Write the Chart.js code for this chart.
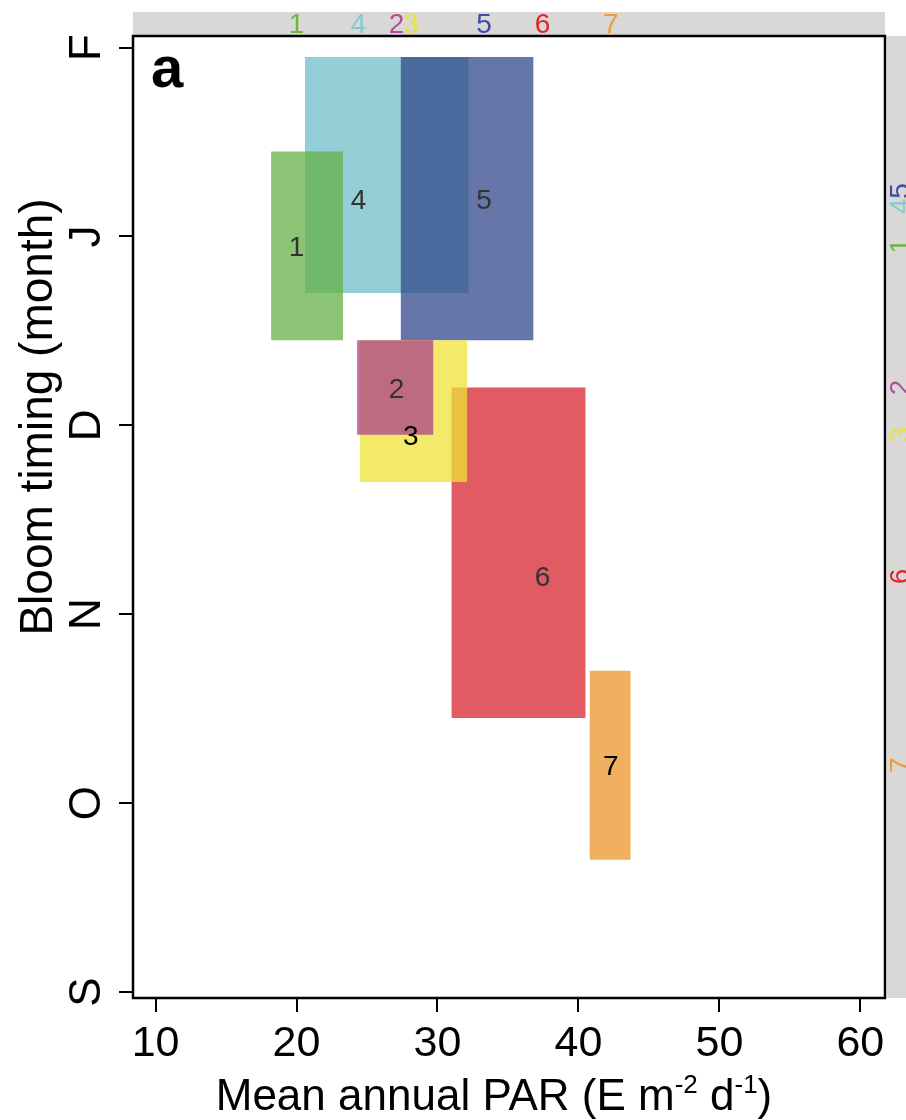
<!DOCTYPE html>
<html>
<head>
<meta charset="utf-8">
<title>Bloom timing vs mean annual PAR</title>
<script src="https://cdn.jsdelivr.net/npm/chart.js"></script>
<style>
  html, body { margin: 0; padding: 0; background: #fff; }
</style>
</head>
<body>
<canvas id="bloomChart" width="906" height="1120"></canvas>
<script>
// Bloom timing vs. mean annual PAR – one box per region (1-7)

const regions    = ['1', '2', '3', '4', '5', '6', '7'];
const parLow     = [18.2, 24.3, 24.5, 20.6, 27.4, 31.0, 40.8];
const parHigh    = [23.3, 29.7, 32.1, 32.2, 36.8, 40.5, 43.7];
const bloomLow   = [3.45, 2.95, 2.70, 3.70, 3.45, 1.45, 0.70];
const bloomHigh  = [4.45, 3.45, 3.45, 4.95, 4.95, 3.20, 1.70];
const labelPar   = [20.0, 27.1, 28.1, 24.4, 33.3, 37.45, 42.3];
const labelBloom = [3.95, 3.20, 2.95, 4.20, 4.20, 2.20, 1.20];

const monthTicks  = [0, 1, 2, 3, 4, 5];
const monthLabels = ['S', 'O', 'N', 'D', 'J', 'F'];
const parTicks    = [10, 20, 30, 40, 50, 60];

// colours / stacking (higher = drawn on top)
const boxColors = [
    'rgba(100,176,70,0.75)',
    'rgba(171,64,139,0.75)',
    'rgba(238,227,54,0.75)',
    'rgba(112,190,200,0.75)',
    'rgba(51,72,139,0.75)',
    'rgba(214,38,46,0.75)',
    'rgba(235,150,43,0.75)'
];
const markColors = ['#6cb544', '#b0509a', '#ebe13e', '#86c8d2', '#3c50a0', '#e02430', '#f09a3a'];
const stackOrder = [2, 5, 4, 0, 1, 3, 6];

const FONT = '"Liberation Sans", Arial, Helvetica, sans-serif';
Chart.defaults.font.family = FONT;
Chart.defaults.color = '#000';

const datasets = regions.map((id, i) => ({
    label: id,
    data: [
        { x: parLow[i],  y: bloomLow[i] },
        { x: parHigh[i], y: bloomLow[i] },
        { x: parHigh[i], y: bloomHigh[i] },
        { x: parLow[i],  y: bloomHigh[i] },
        { x: parLow[i],  y: bloomLow[i] }
    ],
    showLine: true,
    fill: 'shape',
    backgroundColor: boxColors[i],
    borderColor: 'transparent',
    borderWidth: 0,
    pointRadius: 0,
    tension: 0,
    order: 10 - stackOrder[i]
}));

const decorations = {
    id: 'decorations',
    beforeDraw(chart) {
        const { ctx, chartArea: a } = chart;
        ctx.save();
        ctx.fillStyle = '#d9d8d6';
        ctx.fillRect(a.left, 12, a.right - a.left, a.top - 12);
        ctx.fillRect(a.right + 2, a.top, chart.width - a.right - 2, a.bottom - a.top);
        ctx.restore();
    },
    afterDraw(chart) {
        const { ctx, chartArea: a, scales: { x, y } } = chart;
        ctx.save();

        // frame
        ctx.strokeStyle = '#000';
        ctx.lineWidth = 2.5;
        ctx.strokeRect(a.left, a.top, a.right - a.left, a.bottom - a.top);

        // numbers inside boxes (digit centred on the value)
        ctx.font = '28px ' + FONT;
        ctx.textAlign = 'center';
        ctx.textBaseline = 'alphabetic';
        regions.forEach((id, i) => {
            ctx.fillStyle = (id === '3' || id === '7') ? '#000' : '#333';
            ctx.fillText(id, x.getPixelForValue(labelPar[i]), y.getPixelForValue(labelBloom[i]) + 10);
        });

        // top margin strip
        regions.forEach((id, i) => {
            ctx.fillStyle = markColors[i];
            ctx.fillText(id, x.getPixelForValue(labelPar[i]), 33);
        });

        // right margin strip (labels sharing a position are joined)
        const groups = {};
        regions.forEach((id, i) => {
            (groups[labelBloom[i]] = groups[labelBloom[i]] || []).push(i);
        });
        Object.keys(groups).forEach(k => {
            const idx = groups[k];
            const total = ctx.measureText(idx.map(i => regions[i]).join('')).width;
            ctx.save();
            ctx.translate(a.right + 24, y.getPixelForValue(Number(k)));
            ctx.rotate(-Math.PI / 2);
            ctx.textAlign = 'left';
            let cx = -total / 2;
            idx.forEach(i => {
                ctx.fillStyle = markColors[i];
                ctx.fillText(regions[i], cx, 0);
                cx += ctx.measureText(regions[i]).width;
            });
            ctx.restore();
        });

        // panel letter
        ctx.fillStyle = '#000';
        ctx.textAlign = 'left';
        ctx.font = 'bold 58px ' + FONT;
        ctx.fillText('a', a.left + 18, 87);

        // y title
        ctx.save();
        ctx.translate(52, 417);
        ctx.rotate(-Math.PI / 2);
        ctx.textAlign = 'center';
        ctx.font = '46px ' + FONT;
        ctx.fillText('Bloom timing (month)', 0, 0);
        ctx.restore();

        // x title with superscripts
        const pieces = [
            ['Mean annual PAR (E m', false], ['-2', true], [' d', false], ['-1', true], [')', false]
        ];
        const big = '44px ' + FONT, small = '26px ' + FONT;
        let w = 0;
        pieces.forEach(([t, sup]) => { ctx.font = sup ? small : big; w += ctx.measureText(t).width; });
        let px = 494 - w / 2;
        pieces.forEach(([t, sup]) => {
            ctx.font = sup ? small : big;
            ctx.fillText(t, px, sup ? 1093 : 1110);
            px += ctx.measureText(t).width;
        });

        ctx.restore();
    }
};

new Chart(document.getElementById('bloomChart'), {
    type: 'scatter',
    data: { datasets },
    options: {
        responsive: false,
        animation: false,
        events: [],
        layout: { padding: { top: 36, right: 21, left: 0, bottom: 0 } },
        plugins: { legend: { display: false }, tooltip: { enabled: false } },
        scales: {
            x: {
                type: 'linear',
                min: 8.4,
                max: 61.75,
                afterBuildTicks: s => { s.ticks = parTicks.map(v => ({ value: v })); },
                afterFit: s => { s.height = 122; s.paddingLeft = 0; s.paddingRight = 0; },
                grid: { drawOnChartArea: false, tickLength: 14, color: '#000', lineWidth: 2 },
                border: { display: false },
                ticks: { font: { size: 43 }, padding: 6, maxRotation: 0, color: '#000' }
            },
            y: {
                type: 'linear',
                min: -0.032,
                max: 5.061,
                afterBuildTicks: s => { s.ticks = monthTicks.map(v => ({ value: v })); },
                afterFit: s => { s.width = 133; s.paddingTop = 0; s.paddingBottom = 0; },
                grid: { drawOnChartArea: false, tickLength: 14, color: '#000', lineWidth: 2 },
                border: { display: false },
                ticks: {
                    font: { size: 44 },
                    color: '#000',
                    minRotation: 90,
                    maxRotation: 90,
                    crossAlign: 'center',
                    padding: 14,
                    callback: v => monthLabels[monthTicks.indexOf(v)]
                }
            }
        }
    },
    plugins: [decorations]
});
</script>
</body>
</html>
